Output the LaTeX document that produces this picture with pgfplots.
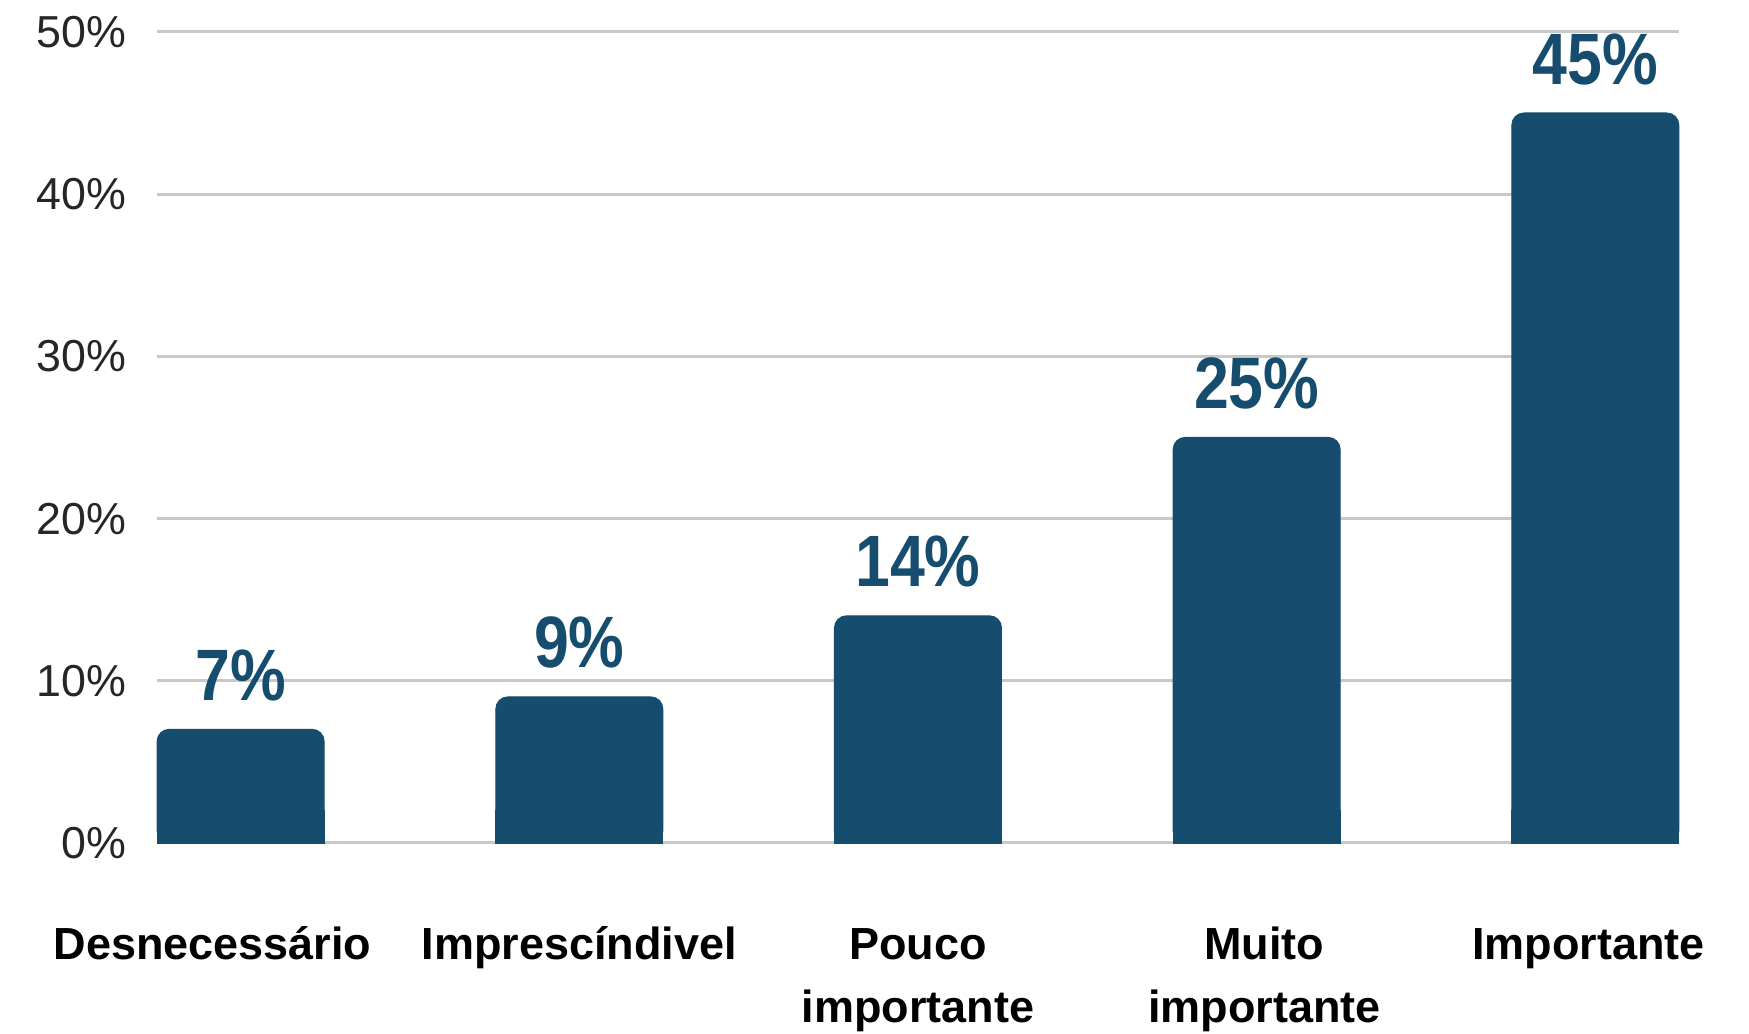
\documentclass[border=0pt]{standalone}
\usepackage{pgfplots}
\pgfplotsset{compat=1.18}
\usepackage{fontspec}
\setmainfont{Liberation Sans}
\newfontfamily\valfont{Liberation Sans}[FakeStretch=0.86]
\definecolor{barblue}{HTML}{164D6E}
\definecolor{gridgray}{HTML}{C8C8C8}
\definecolor{ticktext}{HTML}{262626}
\newcommand\R{\rule{0pt}{12pt}}
\pgfplotstableread{
x v
0 7
1 9
2 14
3 25
4 45
}\datatable
\begin{document}
\begin{tikzpicture}
\useasboundingbox (0,0) rectangle (437.25pt,258.5pt);
\begin{axis}[
  at={(39.25pt,47.75pt)}, anchor=south west,
  scale only axis, width=380.5pt, height=202.75pt,
  xmin=-0.247, xmax=4.247, ymin=0, ymax=50,
  clip=false,
  axis line style={draw=none},
  major tick length=0pt,
  tick style={draw=none},
  ymajorgrids,
  grid style={gridgray, line width=0.75pt},
  ytick={0,10,...,50},
  /pgf/number format/assume math mode=true,
  yticklabel={\pgfmathprintnumber{\tick}\%},
  yticklabel style={font=\fontsize{11.2}{13}\selectfont, color=ticktext, anchor=east, inner sep=0pt, xshift=-7.4pt},
  xtick={0,...,4},
  xticklabels={{\R Desnecessário\hspace*{14pt}}, {\R Imprescíndivel}, {\R Pouco\\importante}, {\R\hspace*{3.9pt}Muito\\\hspace*{3.9pt}importante}, {\R Importante\hspace*{3.4pt}}},
  xticklabel style={font=\bfseries\fontsize{11.25}{15.75}\selectfont, color=black, align=center, anchor=north, inner sep=0pt, yshift=-17pt},
  bar width=41.7pt,
]
\addplot[ybar, fill=barblue, draw=barblue, line width=0.3pt, y filter/.expression={min(y,2)}] table[x=x, y=v] {\datatable};
\addplot[ybar, fill=barblue, draw=barblue, line width=0.3pt, rounded corners=3pt,
  nodes near coords={\pgfmathprintnumber{\pgfplotspointmeta}\%},
  every node near coord/.append style={font=\valfont\bfseries\fontsize{18.2}{20}\selectfont, color=barblue, anchor=base, inner sep=0pt, yshift=7.25pt},
] table[x=x, y=v] {\datatable};
\end{axis}
\end{tikzpicture}
\end{document}
